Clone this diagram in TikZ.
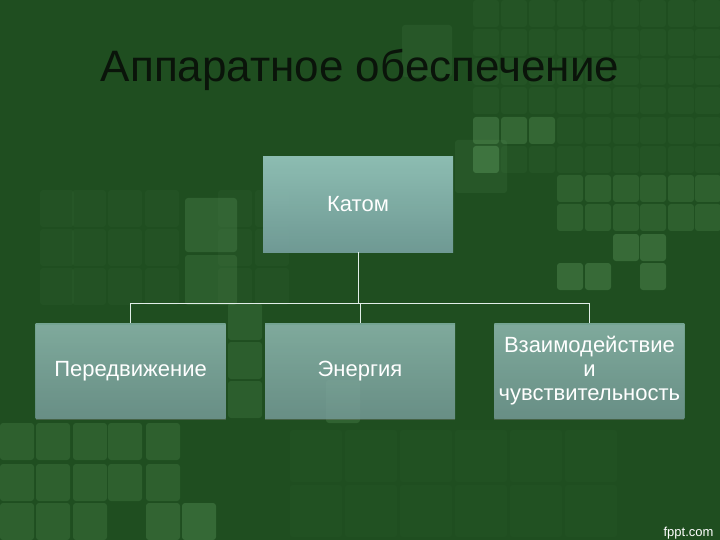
\documentclass[tikz,border=0pt]{standalone}
\usepackage{fontspec}
\setmainfont{Liberation Sans}
\usetikzlibrary{positioning}
\usetikzlibrary{shadows}
\definecolor{slidebg}{RGB}{31,78,32}
\definecolor{tilecolor}{RGB}{100,160,100}
\definecolor{boxtop}{RGB}{150,198,190}
\definecolor{boxbottom}{RGB}{118,160,158}
\definecolor{linkcolor}{RGB}{225,238,232}
\definecolor{titlecolor}{RGB}{10,20,10}
\tikzstyle{tile} = [
	rounded corners=3pt,
	fill=tilecolor
]
\tikzstyle{rootbox} = [
	top color=boxtop,
	bottom color=boxbottom,
	minimum width=190pt,
	minimum height=95pt,
	inner sep=0pt,
	align=center,
	text=white,
	font=\fontsize{22}{24}\selectfont
]
\tikzstyle{childbox} = [
	rootbox,
	fill opacity=0.72,
	text opacity=1,
	drop shadow={shadow xshift=0pt, shadow yshift=-2pt, opacity=0.4}
]
\tikzstyle{link} = [
	draw=linkcolor,
	line width=0.8pt
]

\begin{document}
\begin{tikzpicture}[x=1pt, y=-1pt, node distance=71pt and 39pt]

	%
	% Background
	\fill[slidebg] (0,0) rectangle (720,540);
	\useasboundingbox (0,0) rectangle (720,540);

	% tiles upper right
	\foreach \ty in {0,29,58,87,117,146}
		\foreach \tx in {473,501,529,557,585,613,640,668,695}
			\fill[tile, fill opacity=0.08] (\tx,\ty) rectangle ++(26,27);
	\fill[tile, fill opacity=0.12] (402,25) rectangle ++(50,52);
	\fill[tile, fill opacity=0.12] (455,140) rectangle ++(52,53);
	\foreach \tx/\ty/\op in {473/117/0.3, 501/117/0.25, 529/117/0.25, 473/146/0.35,
		613/234/0.35, 640/234/0.35, 557/263/0.35, 585/263/0.35, 640/263/0.35}
		\fill[tile, fill opacity=\op] (\tx,\ty) rectangle ++(26,27);
	\foreach \ty in {175,204}
		\foreach \tx in {557,585,613,640,668,695}
			\fill[tile, fill opacity=0.22] (\tx,\ty) rectangle ++(26,27);

	% tiles middle left
	\foreach \ty in {190,229,268}
		\foreach \tx in {40,72,108,145,218,255}
			\fill[tile, fill opacity=0.06] (\tx,\ty) rectangle ++(34,37);
	\fill[tile, fill opacity=0.25] (185,198) rectangle ++(52,54);
	\fill[tile, fill opacity=0.2] (185,255) rectangle ++(52,50);
	\foreach \ty in {303,342,381}
		\fill[tile, fill opacity=0.2] (228,\ty) rectangle ++(34,37);
	\fill[tile, fill opacity=0.25] (326,380) rectangle ++(34,43);

	% tiles bottom left
	\foreach \ty in {423,464}
		\foreach \tx in {0,36,73,108,146}
			\fill[tile, fill opacity=0.22] (\tx,\ty) rectangle ++(34,37);
	\foreach \tx/\op in {0/0.22, 36/0.22, 73/0.22, 146/0.28, 182/0.33}
		\fill[tile, fill opacity=\op] (\tx,503) rectangle ++(34,37);

	% tiles bottom middle
	\foreach \ty in {430,485}
		\foreach \tx in {290,345,400,455,510,565}
			\fill[tile, fill opacity=0.04] (\tx,\ty) rectangle ++(52,52);

	%
	% Title
	\node[anchor=base, text=titlecolor, font=\fontsize{44}{48}\selectfont] (heading) at (360,82) {Аппаратное обеспечение};

	%
	% Boxes
	\node[rootbox, fill opacity=0.92, text opacity=1] (katom) at (358,204.5) {Катом};
	\node[childbox, below=of katom, xshift=2pt] (energy) {Энергия};
	\node[childbox, left=of energy] (move) {Передвижение};
	\node[childbox, right=of energy] (sense) {Взаимодействие\\и\\чувствительность};

	%
	% Links
	\draw[link] (katom.south) -- ++(0,-51pt) -| (move.north);
	\draw[link] (katom.south) -- ++(0,-51pt) -| (energy.north);
	\draw[link] (katom.south) -- ++(0,-51pt) -| (sense.north);

	%
	% Footer
	\node[anchor=base east, text=white, font=\fontsize{13}{14}\selectfont] (fppt) at (717,536) {fppt.com};

\end{tikzpicture}
\end{document}
